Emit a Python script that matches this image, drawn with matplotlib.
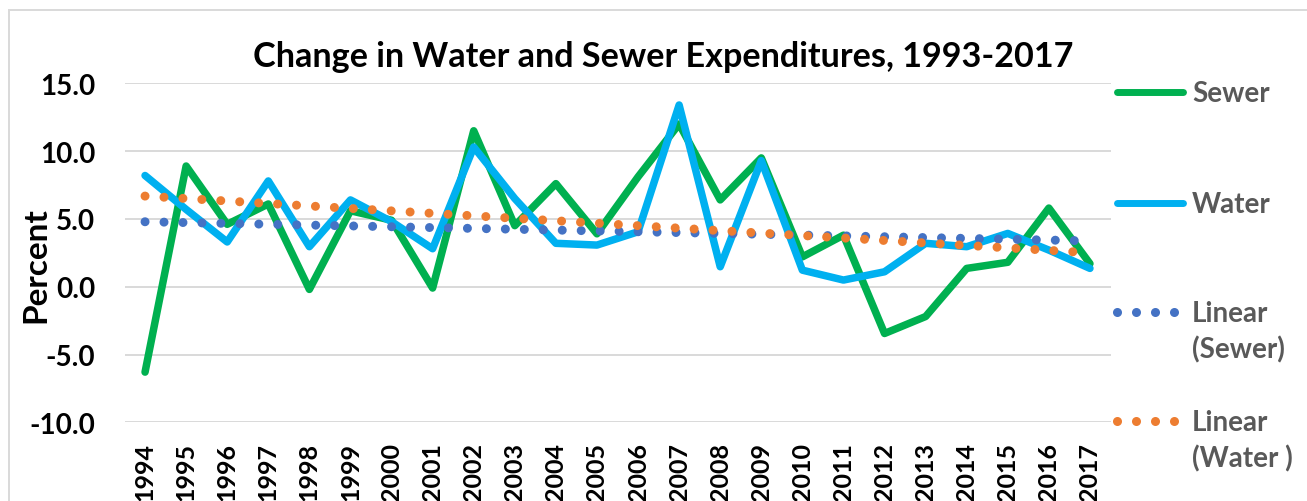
#!/usr/bin/env python

# Change in water and sewer expenditures, 1994-2017, with linear trends.

import matplotlib
matplotlib.use("Agg")
import matplotlib.pyplot as plt
from matplotlib.lines import Line2D
from matplotlib.patches import Rectangle
import numpy as np

years = [str(y) for y in range(1994, 2018)]

sewer = [-6.3, 8.9, 4.6, 6.1, -0.2, 5.6, 4.9, -0.1, 11.5, 4.5, 7.6, 3.9,
         8.1, 12.0, 6.4, 9.5, 2.2, 3.8, -3.45, -2.2, 1.35, 1.8, 5.8, 1.7]
water = [8.2, 5.7, 3.3, 7.8, 2.95, 6.4, 4.8, 2.8, 10.3, 6.5, 3.2, 3.07,
         4.05, 13.4, 1.47, 9.3, 1.22, 0.49, 1.1, 3.2, 2.95, 3.93, 2.7, 1.35]

yticks = [-10, -5, 0, 5, 10, 15]

GREEN = "#00B050"
BLUE = "#00B0F0"
TREND_BLUE = "#4472C4"
TREND_ORANGE = "#ED7D31"
GREY_TEXT = "#595959"
GRID = "#D9D9D9"

plt.rcParams['font.family'] = ['Lato', 'DejaVu Sans']
plt.rcParams['font.weight'] = 'bold'

W, H = 1307, 502
fig = plt.figure(figsize=(W / 100, H / 100), dpi=100)


def fx(px):
    return px / W


def fy(py):
    return 1 - py / H


ax = fig.add_axes([fx(124.5), fy(423.3), fx(1110.5) - fx(124.5),
                   fy(84.3) - fy(423.3)])

# Chart border (only top and left visible in the crop).
fig.add_artist(Rectangle((fx(9), -0.2), 1.2, fy(11) + 0.2,
                         transform=fig.transFigure, fill=False,
                         edgecolor=GRID, linewidth=1.4))

x = np.arange(len(years))

lw_line = 5.4
lw_dot = 6.5
dot_style = (0, (0.001, 2.1))

ax.plot(x, sewer, color=GREEN, linewidth=lw_line, solid_joinstyle='round',
        solid_capstyle='round', zorder=3)
ax.plot(x, water, color=BLUE, linewidth=lw_line, solid_joinstyle='round',
        solid_capstyle='round', zorder=4)

# Linear trend lines, as Excel adds them.
for series, col in ((sewer, TREND_BLUE), (water, TREND_ORANGE)):
    slope, icpt = np.polyfit(x, series, 1)
    ends = np.array([x[0], x[-1]])
    ax.plot(ends, slope * ends + icpt, color=col, linewidth=lw_dot,
            linestyle=dot_style, dash_capstyle='round', zorder=5)

ax.set_xlim(-0.5, len(years) - 0.5)
ax.set_ylim(-10, 15)
ax.set_yticks(yticks)
ax.set_yticklabels([f"{v:.1f}" for v in yticks], fontsize=20,
                   fontweight='bold')
ax.set_xticks(x)
ax.set_xticklabels(years, rotation=90, fontsize=18, fontweight='bold',
                   va='top', ha='center')
ax.tick_params(axis='y', length=0, pad=21)
ax.tick_params(axis='x', length=0, pad=14)
ax.yaxis.grid(True, color=GRID, linewidth=1.4)
ax.set_axisbelow(True)
for s in ax.spines.values():
    s.set_visible(False)

fig.text(fx(36), fy(265), "Percent", rotation=90, ha='center', va='center',
         fontsize=24, fontweight='bold')
fig.text(fx(663), fy(67), "Change in Water and Sewer Expenditures, 1993-2017",
         ha='center', va='baseline', fontsize=24.6, fontweight='bold')

# Legend on the right.
for yy, col in ((93, GREEN), (204, BLUE)):
    fig.add_artist(Line2D([fx(1117), fx(1183)], [fy(yy), fy(yy)],
                          transform=fig.transFigure, color=col,
                          linewidth=5.0, solid_capstyle='round'))
for yy, col in ((313, TREND_BLUE), (422, TREND_ORANGE)):
    fig.add_artist(Line2D([fx(v) for v in (1117, 1136, 1155, 1174)],
                          [fy(yy)] * 4, transform=fig.transFigure,
                          linestyle='none', marker='o', markersize=6.5,
                          color=col, markeredgewidth=0))

legend_text = [("Sewer", 102), ("Water", 213), ("Linear", 322),
               ("(Sewer)", 358), ("Linear", 431.5), ("(Water )", 467.5)]
for txt, base in legend_text:
    fig.text(fx(1192), fy(base), txt, ha='left', va='baseline',
             fontsize=20, fontweight='bold', color=GREY_TEXT)

plt.savefig("out.png", dpi=100)
